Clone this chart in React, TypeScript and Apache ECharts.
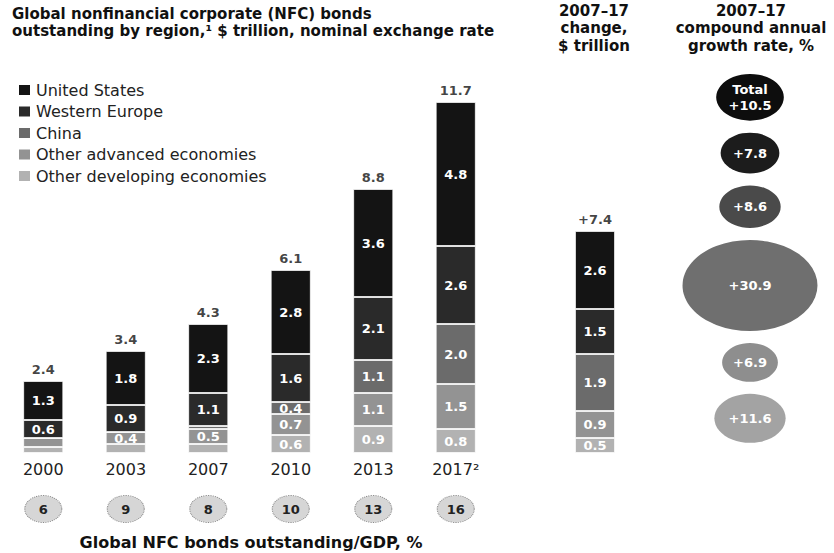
import { useEffect, useRef } from "react";
import * as echarts from "echarts";

// Global NFC bonds outstanding, $ trillion
const years = ["2000", "2003", "2007", "2010", "2013", "2017²"];
const unitedStates = [1.3, 1.8, 2.3, 2.8, 3.6, 4.8];
const westernEurope = [0.6, 0.9, 1.1, 1.6, 2.1, 2.6];
const china = [0.0, 0.0, 0.1, 0.4, 1.1, 2.0];
const otherAdvanced = [0.3, 0.4, 0.5, 0.7, 1.1, 1.5];
const otherDeveloping = [0.2, 0.3, 0.3, 0.6, 0.9, 0.8];
const totals = [2.4, 3.4, 4.3, 6.1, 8.8, 11.7];

// 2007–17 change, $ trillion (US, W. Europe, China, other adv., other dev.)
const changeLabel = ["2007–17"];
const changeByRegion = [2.6, 1.5, 1.9, 0.9, 0.5];
const changeTotal = 7.4;

// 2007–17 compound annual growth rate, %
const cagrNames = ["Total", "United States", "Western Europe", "China", "Other advanced economies", "Other developing economies"];
const cagrValues = [10.5, 7.8, 8.6, 30.9, 6.9, 11.6];

// Global NFC bonds outstanding / GDP, %
const gdpRatio = [6, 9, 8, 10, 13, 16];

const regionNames = ["United States", "Western Europe", "China", "Other advanced economies", "Other developing economies"];
const regionColors = ["#141414", "#2a2a2a", "#6b6b6b", "#939393", "#b2b2b2"];
const bubbleColors = ["#0d0d0d", "#1c1c1c", "#4a4a4a", "#6f6f6f", "#8e8e8e", "#a3a3a3"];

const FONT = "DejaVu Sans";

export default function App() {
  const ref = useRef<HTMLDivElement>(null);

  useEffect(() => {
    if (!ref.current) return;
    const chart = echarts.init(ref.current, undefined, { renderer: "svg" });

    const regionData = [unitedStates, westernEurope, china, otherAdvanced, otherDeveloping];

    const segLabel = {
      show: true,
      position: "inside",
      color: "#fff",
      fontWeight: "bold",
      fontSize: 13,
      fontFamily: FONT,
      formatter: (p: any) => (p.value >= 0.35 ? Number(p.value).toFixed(1) : ""),
    };

    // stack from the bottom up: other developing first, United States last
    const order = [4, 3, 2, 1, 0];
    const mainBars = order.map((i) => ({
      name: regionNames[i],
      type: "bar",
      stack: "region",
      barWidth: 40,
      xAxisIndex: 0,
      yAxisIndex: 0,
      data: regionData[i],
      itemStyle: { color: regionColors[i], borderColor: "#fff", borderWidth: 0.8 },
      label: segLabel,
    }));
    const changeBars = order.map((i) => ({
      name: regionNames[i],
      type: "bar",
      stack: "change",
      barWidth: 40,
      xAxisIndex: 1,
      yAxisIndex: 1,
      data: [changeByRegion[i]],
      itemStyle: { color: regionColors[i], borderColor: "#fff", borderWidth: 0.8 },
      label: segLabel,
    }));

    // bubble sizes follow the growth rate; stacked down the right column
    const bubbleW = (v: number) => 33 + 3.3 * v;
    const bubbleH = (v: number) => 0.66 * bubbleW(v) + 2;
    let cursor = 74;
    const bubbles = cagrValues.map((v, i) => {
      const h = bubbleH(v);
      const y = cursor + h / 2;
      cursor += h + 12;
      return {
        name: cagrNames[i],
        value: [0.5, y, v],
        symbolSize: [bubbleW(v), h],
        itemStyle: { color: bubbleColors[i], opacity: 1 },
      };
    });

    const textBase = { fontFamily: FONT, fill: "#111", fontWeight: "bold" };

    chart.setOption({
      animation: false,
      textStyle: { fontFamily: FONT },
      legend: {
        orient: "vertical",
        left: 12,
        top: 77,
        icon: "rect",
        itemWidth: 13,
        itemHeight: 12,
        itemGap: 5.5,
        selectedMode: false,
        data: regionNames,
        textStyle: { fontSize: 16, color: "#222", lineHeight: 16, fontFamily: FONT },
      },
      grid: [
        { left: 2, width: 495, top: 63, bottom: 100 },
        { left: 555, width: 80, top: 63, bottom: 100 },
        { left: 2, width: 495, top: 495, height: 28 },
        { left: 690, width: 120, top: 0, height: 553 },
      ],
      xAxis: [
        {
          gridIndex: 0,
          type: "category",
          data: years,
          axisLine: { show: false },
          axisTick: { show: false },
          axisLabel: { fontSize: 16, color: "#222", margin: 8, fontFamily: FONT },
        },
        { gridIndex: 1, type: "category", data: changeLabel, show: false },
        { gridIndex: 2, type: "category", data: years, show: false },
        { gridIndex: 3, type: "value", min: 0, max: 1, show: false },
      ],
      yAxis: [
        { gridIndex: 0, type: "value", min: 0, max: 13, show: false },
        { gridIndex: 1, type: "value", min: 0, max: 13, show: false },
        { gridIndex: 2, type: "value", min: -1, max: 1, show: false },
        { gridIndex: 3, type: "value", min: 0, max: 553, inverse: true, show: false },
      ],
      series: [
        ...mainBars,
        ...changeBars,
        {
          type: "scatter",
          xAxisIndex: 0,
          yAxisIndex: 0,
          data: totals,
          symbolSize: 1,
          itemStyle: { color: "rgba(0,0,0,0)" },
          label: {
            show: true,
            position: "top",
            distance: 5,
            color: "#111",
            fontWeight: "bold",
            fontSize: 13,
            fontFamily: FONT,
            formatter: (p: any) => Number(p.value).toFixed(1),
          },
          z: 10,
        },
        {
          type: "scatter",
          xAxisIndex: 1,
          yAxisIndex: 1,
          data: [changeTotal],
          symbolSize: 1,
          itemStyle: { color: "rgba(0,0,0,0)" },
          label: {
            show: true,
            position: "top",
            distance: 5,
            color: "#111",
            fontWeight: "bold",
            fontSize: 13,
            fontFamily: FONT,
            formatter: (p: any) => "+" + Number(p.value).toFixed(1),
          },
          z: 10,
        },
        {
          type: "scatter",
          xAxisIndex: 2,
          yAxisIndex: 2,
          data: gdpRatio.map((r, i) => [i, 0, r]),
          symbol: "circle",
          symbolSize: [37, 27],
          itemStyle: { color: "#d6d6d6", opacity: 1, borderColor: "#8a8a8a", borderWidth: 1, borderType: "dotted" },
          label: {
            show: true,
            position: "inside",
            color: "#222",
            fontWeight: "bold",
            fontSize: 13,
            fontFamily: FONT,
            formatter: (p: any) => String(p.value[2]),
          },
        },
        {
          type: "scatter",
          xAxisIndex: 3,
          yAxisIndex: 3,
          data: bubbles,
          symbol: "circle",
          label: {
            show: true,
            position: "inside",
            color: "#fff",
            fontWeight: "bold",
            fontSize: 13,
            lineHeight: 16,
            fontFamily: FONT,
            formatter: (p: any) =>
              (p.dataIndex === 0 ? "Total\n" : "") + "+" + Number(p.value[2]).toFixed(1),
          },
        },
      ],
      graphic: [
        {
          type: "text",
          left: 12,
          top: 5,
          style: {
            ...textBase,
            fontSize: 15,
            text: "Global nonfinancial corporate (NFC) bonds\noutstanding by region,¹ $ trillion, nominal exchange rate",
            lineHeight: 17,
          },
        },
        {
          type: "text",
          x: 594,
          y: 2,
          style: {
            ...textBase,
            fontSize: 15,
            text: "2007–17\nchange,\n$ trillion",
            align: "center",
            verticalAlign: "top",
            lineHeight: 17.5,
          },
        },
        {
          type: "text",
          x: 751,
          y: 2,
          style: {
            ...textBase,
            fontSize: 15,
            text: "2007–17\ncompound annual\ngrowth rate, %",
            align: "center",
            verticalAlign: "top",
            lineHeight: 17.5,
          },
        },
        {
          type: "text",
          x: 251,
          y: 542,
          style: {
            ...textBase,
            fontSize: 16,
            text: "Global NFC bonds outstanding/GDP, %",
            align: "center",
            verticalAlign: "middle",
          },
        },
      ],
    });

    return () => chart.dispose();
  }, []);

  return (
    <div
      ref={ref}
      style={{ position: "fixed", left: 0, top: 0, width: 834, height: 553, background: "#fff" }}
    />
  );
}
